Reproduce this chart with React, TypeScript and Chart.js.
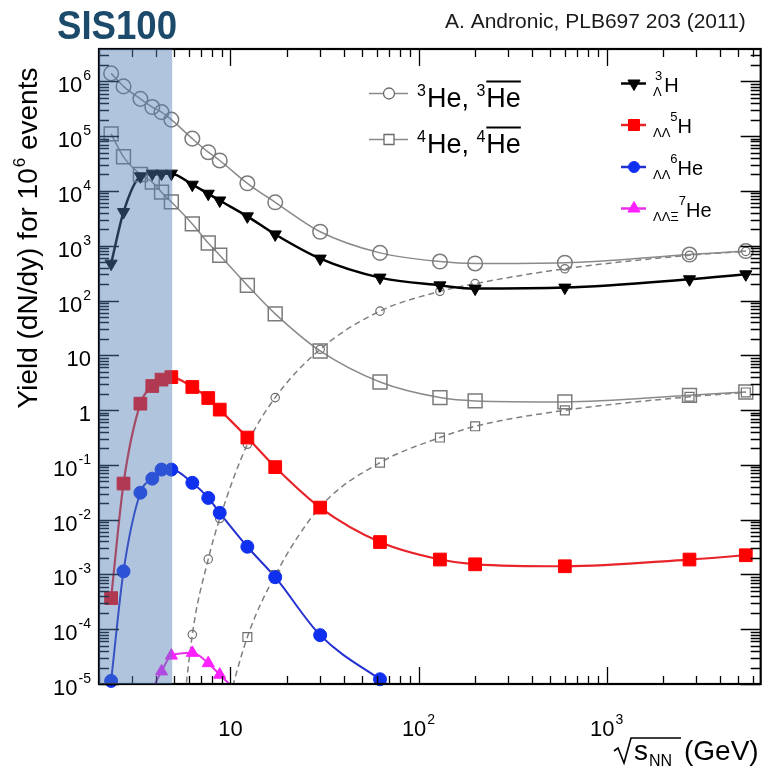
import React, { useEffect, useRef } from "react";
import { Chart, registerables } from "chart.js";

Chart.register(...registerables);

// ---- data ----
const ENERGY = [2.32, 2.7, 3.32, 3.84, 4.3, 4.85, 6.27, 7.62, 8.77, 12.3, 17.3, 30, 62.4, 130, 200, 600, 2760, 5500];
const HE3 = [1.4e6, 8.1e5, 4.8e5, 3.4e5, 2.75e5, 2.0e5, 9.0e4, 5.1e4, 3.6e4, 1.38e4, 6.2e3, 1.8e3, 740, 515, 475, 490, 690, 800];
const HE4 = [1.1e5, 4.2e4, 2.0e4, 1.45e4, 9.5e3, 6.3e3, 2.5e3, 1.12e3, 670, 189, 57, 12.0, 3.25, 1.69, 1.47, 1.41, 1.86, 2.14];
const ANTI_HE3 = [null, null, null, null, null, 2e-8, 8.0e-5, 1.9e-3, 1.05e-2, 0.238, 1.69, 12.9, 64, 147, 203, 380, 670, 790];
const ANTI_HE4 = [null, null, null, null, null, null, null, null, 1.2e-6, 7.2e-5, 9.7e-4, 0.017, 0.11, 0.315, 0.506, 0.99, 1.75, 2.1];
const H3_L = [471, 4120, 1.85e4, 2.07e4, 2.07e4, 2.07e4, 1.3e4, 8.9e3, 6.7e3, 3.44e3, 1.61e3, 582, 262, 189, 165, 172, 244, 301];
const H5_LL = [3.7e-4, 0.0456, 1.31, 2.75, 3.6, 4.0, 2.64, 1.66, 1.02, 0.315, 0.091, 0.0166, 3.9e-3, 1.87e-3, 1.53e-3, 1.41e-3, 1.87e-3, 2.24e-3];
const HE6_LL = [1.14e-5, 1.14e-3, 0.031, 0.056, 0.082, 0.082, 0.047, 0.0249, 0.0133, 3.2e-3, 8.9e-4, 7.8e-5, 1.22e-5, 2.5e-6, null, null, null, null];
const HE7_LLXI = [null, null, null, 8e-6, 1.7e-5, 3.3e-5, 3.7e-5, 2.4e-5, 1.48e-5, 4.9e-6, null, null, null, null, null, null, null, null];

const X_MIN = 2;
const X_MAX = 6600;
const Y_MIN = 1e-5;
const Y_MAX = 3.9e6;
const X_LABEL_EXPONENTS = [1, 2, 3];
const Y_LABEL_EXPONENTS = [-5, -4, -3, -2, -1, 0, 1, 2, 3, 4, 5, 6];
const SIS100_RANGE = [2, 4.9];

const TITLE = "SIS100";
const CITATION = "A. Andronic, PLB697 203 (2011)";

const FONT = '"Liberation Sans", Arial, Helvetica, sans-serif';

function points(values: (number | null)[], onlyVisible: boolean) {
  const out: { x: number; y: number }[] = [];
  values.forEach((v, i) => {
    if (v === null) return;
    if (onlyVisible && v < Y_MIN * 0.999) return;
    out.push({ x: ENERGY[i], y: v });
  });
  return out;
}

type Style = {
  values: (number | null)[];
  line: string;
  lineWidth: number;
  dash?: number[];
  marker: string;
  radius: number;
  rotation?: number;
  stroke: string;
  fill: string;
  markerWidth: number;
};

const SERIES: Style[] = [
  { values: H3_L, line: "#000000", lineWidth: 2.5, marker: "triangle", radius: 7, rotation: 180, stroke: "#000000", fill: "#000000", markerWidth: 1 },
  { values: H5_LL, line: "#e8242a", lineWidth: 2.2, marker: "rect", radius: 9, stroke: "#ff0000", fill: "#ff0000", markerWidth: 1 },
  { values: HE6_LL, line: "#2430d0", lineWidth: 2, marker: "circle", radius: 6.5, stroke: "#1030f0", fill: "#1030f0", markerWidth: 1 },
  { values: HE7_LLXI, line: "#e830e8", lineWidth: 2, marker: "triangle", radius: 7, stroke: "#ff20ff", fill: "#ff20ff", markerWidth: 1 },
  { values: HE3, line: "#8a8a8a", lineWidth: 1.5, marker: "circle", radius: 7.3, stroke: "#7a7a7a", fill: "rgba(0,0,0,0)", markerWidth: 1.5 },
  { values: HE4, line: "#8a8a8a", lineWidth: 1.5, marker: "rect", radius: 9.8, stroke: "#7a7a7a", fill: "rgba(0,0,0,0)", markerWidth: 1.5 },
  { values: ANTI_HE3, line: "#808080", lineWidth: 1.5, dash: [6, 4], marker: "circle", radius: 4.2, stroke: "#707070", fill: "rgba(0,0,0,0)", markerWidth: 1.2 },
  { values: ANTI_HE4, line: "#808080", lineWidth: 1.5, dash: [6, 4], marker: "rect", radius: 6.3, stroke: "#707070", fill: "rgba(0,0,0,0)", markerWidth: 1.2 },
];

function setFont(ctx: CanvasRenderingContext2D, size: number, bold = false) {
  ctx.font = `${bold ? "bold " : ""}${size}px ${FONT}`;
}

function put(ctx: CanvasRenderingContext2D, s: string, x: number, y: number, size: number): number {
  setFont(ctx, size);
  ctx.fillText(s, x, y);
  return ctx.measureText(s).width;
}

function width(ctx: CanvasRenderingContext2D, s: string, size: number): number {
  setFont(ctx, size);
  return ctx.measureText(s).width;
}

function marker(ctx: CanvasRenderingContext2D, kind: string, x: number, y: number, r: number, fill: string | null, stroke: string, lw: number, down = false) {
  ctx.beginPath();
  if (kind === "circle") ctx.arc(x, y, r, 0, Math.PI * 2);
  else if (kind === "rect") ctx.rect(x - r, y - r, 2 * r, 2 * r);
  else {
    const s = down ? -1 : 1;
    ctx.moveTo(x, y - s * r);
    ctx.lineTo(x + r * 0.866, y + s * r * 0.5);
    ctx.lineTo(x - r * 0.866, y + s * r * 0.5);
    ctx.closePath();
  }
  if (fill) {
    ctx.fillStyle = fill;
    ctx.fill();
  }
  ctx.strokeStyle = stroke;
  ctx.lineWidth = lw;
  ctx.stroke();
}

const overlay = {
  id: "overlay",
  afterDatasetsDraw(chart: any) {
    const { ctx, chartArea: a } = chart;
    const xs = chart.scales.x;
    const ys = chart.scales.y;
    ctx.save();
    ctx.strokeStyle = "#000";
    ctx.lineWidth = 1.3;
    ctx.beginPath();
    for (let e = 0; e <= 4; e++) {
      for (let m = 1; m <= 9; m++) {
        const v = m * Math.pow(10, e);
        if (v < X_MIN || v > X_MAX) continue;
        const px = Math.round(xs.getPixelForValue(v)) + 0.5;
        const len = m === 1 ? 17 : 8;
        ctx.moveTo(px, a.bottom);
        ctx.lineTo(px, a.bottom - len);
        ctx.moveTo(px, a.top);
        ctx.lineTo(px, a.top + len);
      }
    }
    for (let e = -5; e <= 6; e++) {
      for (let m = 1; m <= 9; m++) {
        const v = m * Math.pow(10, e);
        if (v < Y_MIN || v > Y_MAX) continue;
        const py = Math.round(ys.getPixelForValue(v)) + 0.5;
        const len = m === 1 ? 20 : 10;
        ctx.moveTo(a.left, py);
        ctx.lineTo(a.left + len, py);
        ctx.moveTo(a.right, py);
        ctx.lineTo(a.right - len, py);
      }
    }
    ctx.stroke();
    ctx.lineWidth = 2.2;
    ctx.strokeRect(a.left, a.top, a.right - a.left, a.bottom - a.top);

    // SIS100 band over everything in the plot
    const b0 = xs.getPixelForValue(SIS100_RANGE[0]);
    const b1 = xs.getPixelForValue(SIS100_RANGE[1]);
    ctx.fillStyle = "rgba(80,125,180,0.45)";
    ctx.fillRect(b0, a.top, b1 - b0, a.bottom - a.top);
    ctx.restore();
  },
  afterDraw(chart: any) {
    const { ctx } = chart;
    const xs = chart.scales.x;
    const ys = chart.scales.y;
    ctx.save();
    ctx.fillStyle = "#000";
    ctx.textBaseline = "alphabetic";
    ctx.textAlign = "left";

    // y tick labels
    for (const e of Y_LABEL_EXPONENTS) {
      const py = ys.getPixelForValue(Math.pow(10, e));
      const base = py + 11;
      const main = e === 0 ? "1" : "10";
      const sup = e === 0 || e === 1 ? "" : e < 0 ? "-" + -e : String(e);
      const wm = width(ctx, main, 22);
      const ws = sup ? width(ctx, sup, 14) + 1 : 0;
      const x0 = 91 - wm - ws;
      put(ctx, main, x0, base, 22);
      if (sup) put(ctx, sup, x0 + wm + 1, base - 12, 14);
    }
    // x tick labels
    for (const e of X_LABEL_EXPONENTS) {
      const px = xs.getPixelForValue(Math.pow(10, e));
      const sup = e === 1 ? "" : String(e);
      const wm = width(ctx, "10", 22);
      const ws = sup ? width(ctx, sup, 14) + 1 : 0;
      const x0 = px - (wm + ws) / 2;
      put(ctx, "10", x0, 736, 22);
      if (sup) put(ctx, sup, x0 + wm + 1, 724, 14);
    }

    // x axis title: sqrt(s_NN) (GeV)
    ctx.strokeStyle = "#000";
    ctx.lineWidth = 1.6;
    ctx.beginPath();
    ctx.moveTo(614, 751);
    ctx.lineTo(618, 748);
    ctx.lineTo(624, 763);
    ctx.lineTo(631, 738);
    ctx.lineTo(681, 738);
    ctx.stroke();
    let cx = 634;
    cx += put(ctx, "s", cx, 760, 28);
    put(ctx, "NN", cx + 1, 766, 16);
    put(ctx, "(GeV)", 684, 760, 28);

    // y axis title (rotated)
    ctx.save();
    ctx.translate(37, 238);
    ctx.rotate(-Math.PI / 2);
    const p1 = "Yield (dN/dy) for 10";
    const p2 = "6";
    const p3 = " events";
    const w1 = width(ctx, p1, 28);
    const w2 = width(ctx, p2, 17);
    const w3 = width(ctx, p3, 28);
    let tx = -(w1 + w2 + w3 + 1) / 2;
    put(ctx, p1, tx, 0, 28);
    tx += w1 + 1;
    put(ctx, p2, tx, -12, 17);
    tx += w2;
    put(ctx, p3, tx, 0, 28);
    ctx.restore();

    // header texts
    ctx.save();
    ctx.fillStyle = "#1b4a6b";
    setFont(ctx, 40, true);
    const tw = ctx.measureText(TITLE).width;
    ctx.translate(57, 39);
    ctx.scale(120 / tw, 1);
    ctx.fillText(TITLE, 0, 0);
    ctx.restore();
    ctx.fillStyle = "#1a1a1a";
    put(ctx, CITATION, 445, 28, 21);

    // left legend (light nuclei)
    const grey = "#8a8a8a";
    const leftRows = [
      { y: 93.5, kind: "circle", r: 5.5, mass: "3" },
      { y: 139.5, kind: "rect", r: 5, mass: "4" },
    ];
    for (const row of leftRows) {
      ctx.strokeStyle = grey;
      ctx.lineWidth = 1.5;
      ctx.beginPath();
      ctx.moveTo(369, row.y);
      ctx.lineTo(408, row.y);
      ctx.stroke();
      marker(ctx, row.kind, 389, row.y, row.r, "#ffffff", "#6a6a6a", 1.3);
      ctx.fillStyle = "#000";
      const base = row.y + 13;
      let x = 417;
      x += put(ctx, row.mass, x, base - 11, 16) + 1;
      x += put(ctx, "He, ", x, base, 27);
      x += put(ctx, row.mass, x, base - 11, 16) + 1;
      const wHe = put(ctx, "He", x, base, 27);
      ctx.fillRect(x, base - 26, wHe, 2);
    }

    // right legend (hypernuclei)
    const rightRows = [
      { y: 83.5, color: "#000000", line: "#000000", kind: "tri", down: true, sub: "Λ", sup: "3", name: "H", stacked: true },
      { y: 125, color: "#ff0000", line: "#e8242a", kind: "rect", down: false, sub: "ΛΛ", sup: "5", name: "H", stacked: false },
      { y: 167, color: "#1030f0", line: "#2430d0", kind: "circle", down: false, sub: "ΛΛ", sup: "6", name: "He", stacked: false },
      { y: 208.5, color: "#ff20ff", line: "#e830e8", kind: "tri", down: false, sub: "ΛΛΞ", sup: "7", name: "He", stacked: false },
    ];
    for (const row of rightRows) {
      ctx.strokeStyle = row.line;
      ctx.lineWidth = 2.5;
      ctx.beginPath();
      ctx.moveTo(621, row.y);
      ctx.lineTo(646, row.y);
      ctx.stroke();
      const r = row.kind === "rect" ? 5.5 : row.kind === "circle" ? 5.5 : 7;
      marker(ctx, row.kind, 634, row.y, r, row.color, row.color, 1, row.down);
      ctx.fillStyle = "#000";
      const base = row.y + 8;
      let x = 653;
      const wsub = width(ctx, row.sub, 13);
      const wsup = width(ctx, row.sup, 13);
      put(ctx, row.sub, x, base + 4, 13);
      if (row.stacked) {
        put(ctx, row.sup, x + 2, base - 12, 13);
        x += Math.max(wsub, wsup + 2) + 2;
      } else {
        x += wsub;
        put(ctx, row.sup, x, base - 12, 13);
        x += wsup;
      }
      put(ctx, row.name, x, base, 20);
    }
    ctx.restore();
  },
};

export default function App() {
  const ref = useRef<HTMLCanvasElement | null>(null);
  useEffect(() => {
    if (!ref.current) return;
    const datasets: any[] = [];
    for (const s of SERIES) {
      datasets.push({
        data: points(s.values, false),
        borderColor: s.line,
        borderWidth: s.lineWidth,
        borderDash: s.dash || [],
        pointRadius: 0,
        fill: false,
        cubicInterpolationMode: "monotone",
        order: 1,
      });
      datasets.push({
        data: points(s.values, true),
        showLine: false,
        pointStyle: s.marker,
        pointRadius: s.radius,
        pointRotation: s.rotation || 0,
        pointBorderColor: s.stroke,
        pointBackgroundColor: s.fill,
        pointBorderWidth: s.markerWidth,
        clip: false,
        order: 0,
      });
    }
    const chart = new Chart(ref.current, {
      type: "line",
      data: { datasets },
      options: {
        responsive: false,
        animation: false,
        events: [],
        layout: { padding: { left: 99, right: 3, top: 49, bottom: 84 } },
        plugins: { legend: { display: false }, tooltip: { enabled: false }, title: { display: false } },
        scales: {
          x: { type: "logarithmic", min: X_MIN, max: X_MAX, display: false },
          y: { type: "logarithmic", min: Y_MIN, max: Y_MAX, display: false },
        },
      },
      plugins: [overlay],
    } as any);
    return () => chart.destroy();
  }, []);
  return (
    <div style={{ position: "fixed", left: 0, top: 0, width: 772, height: 768, background: "#fff" }}>
      <canvas ref={ref} width={772} height={768} style={{ display: "block" }} />
    </div>
  );
}
